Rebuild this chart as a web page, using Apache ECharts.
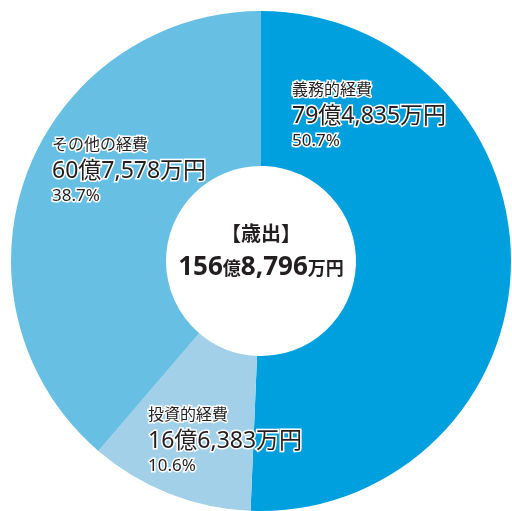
<!DOCTYPE html>
<html>
<head>
<meta charset="utf-8">
<script src="https://cdn.jsdelivr.net/npm/echarts@6/dist/echarts.min.js"></script>
<style>
  html, body { margin: 0; padding: 0; background: #fff; }
  #chart { width: 512px; height: 511px; }
</style>
</head>
<body>
<div id="chart"></div>
<script>
// 歳出 内訳（単位：万円）
const names = ["義務的経費", "投資的経費", "その他の経費"];
const values = [794835, 166383, 607578];
const colors = ["#00a0de", "#a1d0e8", "#67bfe4"];
const centerTitle = "【歳出】";

// label top-left corners, per slice
const labelPos = [
  [292, 78],
  [148, 403],
  [52, 133],
];

const FONT = '"Noto Sans", "Noto Sans CJK JP", sans-serif';

const total = values.reduce((a, b) => a + b, 0);
const oku = (v) => Math.floor(v / 10000);
const man = (v) => (v % 10000).toLocaleString("en-US");
const fmtValue = (v) => oku(v) + "億" + man(v) + "万円";

const outline = { textBorderColor: "#fff", textBorderWidth: 3, color: "#231f20" };

const chart = echarts.init(document.getElementById("chart"));
chart.setOption({
  animation: false,
  backgroundColor: "#fff",
  title: [
    {
      text: centerTitle,
      left: 256,
      top: 220,
      textAlign: "center",
      textStyle: { fontFamily: FONT, fontSize: 20, fontWeight: "bold", color: "#231f20" },
    },
    {
      text: "{b|" + oku(total) + "}{s|億}{b|" + man(total) + "}{s|万円}",
      left: 256,
      top: 250,
      textAlign: "center",
      textStyle: {
        rich: {
          b: { fontFamily: FONT, fontSize: 26, fontWeight: "bold", color: "#231f20", verticalAlign: "bottom" },
          s: { fontFamily: FONT, fontSize: 18, fontWeight: "bold", color: "#231f20", verticalAlign: "bottom", padding: [0, 0, 2, 0] },
        },
      },
    },
  ],
  series: [
    {
      type: "pie",
      center: [261, 261],
      radius: [95, 250],
      clockwise: true,
      startAngle: 90,
      silent: true,
      percentPrecision: 1,
      data: names.map((n, i) => ({ name: n, value: values[i], itemStyle: { color: colors[i] } })),
      label: {
        show: true,
        position: "inside",
        align: "left",
        formatter: (p) => "{n|" + p.name + "}\n{v|" + fmtValue(p.value) + "}\n{p|" + p.percent.toFixed(1) + "%}",
        rich: {
          n: Object.assign({ fontFamily: FONT, fontSize: 16, lineHeight: 24 }, outline),
          v: Object.assign({ fontFamily: FONT, fontSize: 23, lineHeight: 28 }, outline),
          p: Object.assign({ fontFamily: FONT, fontSize: 17, lineHeight: 22 }, outline),
        },
      },
      labelLine: { show: false },
      labelLayout: (params) => ({
        x: labelPos[params.dataIndex][0],
        y: labelPos[params.dataIndex][1],
        align: "left",
        verticalAlign: "top",
      }),
    },
  ],
});
</script>
</body>
</html>
